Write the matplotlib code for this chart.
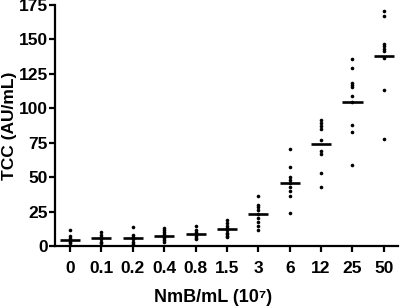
import matplotlib
matplotlib.use('Agg')
import matplotlib.pyplot as plt

plt.rcParams['font.family'] = ['Liberation Sans', 'DejaVu Sans']
plt.rcParams['font.weight'] = 'bold'

# NmB concentration (10^7 / mL) and TCC readings (AU/mL) per group
conc = ['0', '0.1', '0.2', '0.4', '0.8', '1.5', '3', '6', '12', '25', '50']
tcc_0 = [11.7, 7.3, 6.0, 4.5, 3.0, 2.0]
tcc_01 = [10.4, 8.0, 6.5, 5.0, 3.1, 2.0]
tcc_02 = [13.6, 8.0, 6.5, 5.0, 3.1, 1.5]
tcc_04 = [12.9, 11.5, 10.0, 8.5, 7.0, 5.5, 4.0, 3.0]
tcc_08 = [14.6, 11.7, 10.2, 8.8, 7.5, 6.0, 4.9]
tcc_15 = [19.0, 17.0, 14.6, 13.0, 11.5, 9.7, 8.5, 7.3, 6.3]
tcc_3 = [36.0, 29.9, 28.2, 26.3, 23.3, 20.2, 17.7, 14.6, 11.7]
tcc_6 = [70.2, 57.3, 50.1, 48.1, 46.0, 43.0, 39.8, 36.5, 24.3]
tcc_12 = [91.4, 89.0, 87.0, 84.6, 77.3, 68.8, 67.1, 53.0, 42.8]
tcc_25 = [135.7, 129.1, 118.2, 116.7, 115.8, 108.9, 104.5, 87.5, 82.9, 59.1]
tcc_50 = [170.9, 166.8, 146.6, 144.9, 143.0, 141.3, 136.2, 113.3, 77.8]
groups = [tcc_0, tcc_01, tcc_02, tcc_04, tcc_08, tcc_15,
          tcc_3, tcc_6, tcc_12, tcc_25, tcc_50]
medians = [4.4, 6.0, 5.6, 7.5, 9.0, 12.0, 23.3, 46.0, 74.4, 104.5, 138.0]

fig = plt.figure(figsize=(4.0, 3.08), dpi=100)
ax = fig.add_axes([0.1375, 0.2013, 0.8575, 0.7825])

for i, vals in enumerate(groups):
    ax.plot([i] * len(vals), vals, 'o', color='black', markersize=2.6,
            markeredgewidth=0, clip_on=False)
    ax.plot([i - 0.32, i + 0.32], [medians[i], medians[i]], color='black',
            linewidth=1.9, solid_capstyle='butt')

ax.set_xlim(-0.48, 10.45)
ax.set_ylim(0, 175)
ax.set_yticks(range(0, 176, 25))
ax.set_xticks(range(len(conc)))
ax.set_xticklabels(conc)

for s in ['top', 'right']:
    ax.spines[s].set_visible(False)
for s in ['left', 'bottom']:
    ax.spines[s].set_linewidth(1.6)

ax.tick_params(axis='y', length=4, width=1.6, pad=1, labelsize=12.5)
ax.tick_params(axis='x', length=4, width=1.6, pad=7, labelsize=12.5)
for lbl in ax.get_xticklabels() + ax.get_yticklabels():
    lbl.set_fontweight('bold')

ax.set_ylabel('TCC (AU/mL)', fontsize=12.5, fontweight='bold')
ax.yaxis.set_label_coords(-0.11, 0.5)
ax.set_xlabel('NmB/mL (10\u2077)', fontsize=13, fontweight='bold')
ax.xaxis.set_label_coords(0.46, -0.178)

fig.savefig('out.png', dpi=100)
